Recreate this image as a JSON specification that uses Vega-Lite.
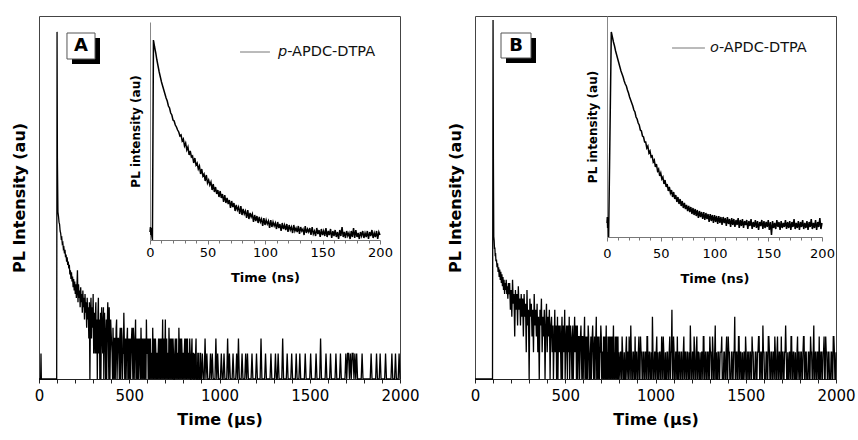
{
"$schema": "https://vega.github.io/schema/vega-lite/v6.json",
"padding": {"left": 10, "top": 15, "right": 5, "bottom": 5},
"spacing": 26,
"config": {
  "font": "DejaVu Sans",
  "view": {"stroke": "#444", "strokeWidth": 1},
  "axis": {"grid": false, "labelColor": "#000", "titleColor": "#000", "domainColor": "#222", "tickColor": "#222", "titleFontWeight": "bold", "labelFont": "DejaVu Sans", "titleFont": "DejaVu Sans", "labelOverlap": false}
},
"datasets": {
"mainA": [
{"t":0,"c":1},{"t":9,"c":1},{"t":11,"c":2},{"t":13,"c":1},{"t":98,"c":1},{"t":100,"c":12100},{"t":102,"c":400},{"t":105,"c":92},{"t":108,"c":82},{"t":111,"c":70},{"t":114,"c":66},{"t":117,"c":55},{"t":120,"c":52},{"t":123,"c":45},{"t":126,"c":46},{"t":129,"c":39},{"t":132,"c":40},{"t":135,"c":34},{"t":138,"c":35},{"t":141,"c":30},{"t":144,"c":33},{"t":147,"c":27},{"t":150,"c":29},{"t":153,"c":24},{"t":156,"c":27},{"t":159,"c":22},{"t":162,"c":24},{"t":165,"c":20},{"t":168,"c":22},{"t":171,"c":17},{"t":174,"c":19},{"t":177,"c":15},{"t":180,"c":18},{"t":183,"c":14},{"t":186,"c":16},{"t":189,"c":12},{"t":192,"c":15},{"t":195,"c":11},{"t":198,"c":14},{"t":201,"c":10},{"t":204,"c":13},{"t":207,"c":9},{"t":210,"c":12},{"t":213,"c":19},{"t":216,"c":8},{"t":219,"c":13},{"t":222,"c":9},{"t":225,"c":11},{"t":228,"c":7},{"t":231,"c":12},{"t":234,"c":8},{"t":237,"c":10},{"t":240,"c":6},{"t":243,"c":11},{"t":246,"c":7},{"t":249,"c":9},{"t":252,"c":5},{"t":255,"c":10},{"t":258,"c":6},{"t":261,"c":8},{"t":264,"c":4},{"t":267,"c":9},{"t":270,"c":5},{"t":273,"c":7},{"t":276,"c":3},{"t":279,"c":8},{"t":282,"c":1},{"t":285,"c":6},{"t":288,"c":9},{"t":291,"c":3},{"t":294,"c":7},{"t":297,"c":4},{"t":300,"c":10},{"t":303,"c":2},{"t":306,"c":6},{"t":309,"c":4},{"t":313,"c":6},{"t":317,"c":2},{"t":321,"c":5},{"t":325,"c":3},{"t":329,"c":9},{"t":333,"c":4},{"t":337,"c":1},{"t":341,"c":6},{"t":345,"c":3},{"t":349,"c":5},{"t":353,"c":2},{"t":357,"c":7},{"t":361,"c":3},{"t":365,"c":4},{"t":369,"c":1},{"t":373,"c":5},{"t":377,"c":3},{"t":381,"c":8},{"t":385,"c":2},{"t":389,"c":7},{"t":393,"c":1},{"t":397,"c":5},{"t":401,"c":3},{"t":405,"c":2},{"t":410,"c":4},{"t":415,"c":1},{"t":420,"c":3},{"t":425,"c":2},{"t":430,"c":5},{"t":435,"c":2},{"t":440,"c":3},{"t":445,"c":1},{"t":450,"c":4},{"t":455,"c":2},{"t":460,"c":3},{"t":465,"c":2},{"t":470,"c":6},{"t":475,"c":1},{"t":480,"c":3},{"t":485,"c":2},{"t":490,"c":4},{"t":495,"c":2},{"t":500,"c":1},{"t":505,"c":3},{"t":510,"c":2},{"t":515,"c":4},{"t":520,"c":1},{"t":525,"c":3},{"t":530,"c":2},{"t":535,"c":5},{"t":540,"c":2},{"t":545,"c":1},{"t":550,"c":3},{"t":555,"c":2},{"t":560,"c":2},{"t":565,"c":4},{"t":570,"c":1},{"t":575,"c":2},{"t":580,"c":3},{"t":585,"c":1},{"t":590,"c":2},{"t":595,"c":5},{"t":600,"c":2},{"t":605,"c":1},{"t":610,"c":3},{"t":615,"c":2},{"t":620,"c":1},{"t":625,"c":2},{"t":630,"c":4},{"t":635,"c":1},{"t":640,"c":2},{"t":645,"c":3},{"t":650,"c":1},{"t":655,"c":2},{"t":660,"c":2},{"t":665,"c":1},{"t":670,"c":3},{"t":675,"c":2},{"t":680,"c":1},{"t":685,"c":5},{"t":690,"c":2},{"t":695,"c":1},{"t":700,"c":5},{"t":705,"c":2},{"t":710,"c":1},{"t":715,"c":2},{"t":720,"c":4},{"t":725,"c":1},{"t":730,"c":2},{"t":735,"c":3},{"t":740,"c":1},{"t":745,"c":2},{"t":750,"c":1},{"t":755,"c":3},{"t":760,"c":2},{"t":765,"c":1},{"t":770,"c":2},{"t":775,"c":4},{"t":780,"c":1},{"t":785,"c":2},{"t":790,"c":3},{"t":795,"c":1},{"t":800,"c":2},{"t":805,"c":2},{"t":810,"c":1},{"t":815,"c":3},{"t":820,"c":2},{"t":825,"c":1},{"t":830,"c":2},{"t":835,"c":3},{"t":840,"c":1},{"t":845,"c":2},{"t":850,"c":1},{"t":855,"c":2},{"t":860,"c":1},{"t":865,"c":1},{"t":870,"c":3},{"t":875,"c":1},{"t":880,"c":2},{"t":885,"c":1},{"t":890,"c":1},{"t":895,"c":2},{"t":900,"c":1},
{"t":905,"c":2},{"t":910,"c":1},{"t":915,"c":1},{"t":920,"c":3},{"t":925,"c":1},{"t":930,"c":2},{"t":935,"c":1},{"t":945,"c":1},{"t":950,"c":2},{"t":955,"c":1},{"t":960,"c":2},{"t":965,"c":1},{"t":975,"c":1},{"t":980,"c":3},{"t":985,"c":1},{"t":990,"c":2},{"t":995,"c":1},{"t":1005,"c":1},{"t":1010,"c":2},{"t":1015,"c":1},{"t":1020,"c":1},{"t":1025,"c":2},{"t":1030,"c":1},{"t":1040,"c":1},{"t":1045,"c":3},{"t":1050,"c":1},{"t":1055,"c":2},{"t":1060,"c":1},{"t":1070,"c":1},{"t":1075,"c":2},{"t":1080,"c":1},{"t":1090,"c":1},{"t":1095,"c":2},{"t":1100,"c":1},{"t":1105,"c":3},{"t":1110,"c":1},{"t":1120,"c":1},{"t":1125,"c":2},{"t":1130,"c":1},{"t":1140,"c":1},{"t":1145,"c":2},{"t":1150,"c":1},{"t":1155,"c":2},{"t":1160,"c":1},{"t":1175,"c":1},{"t":1180,"c":2},{"t":1185,"c":1},{"t":1200,"c":1},{"t":1205,"c":2},{"t":1210,"c":1},{"t":1225,"c":1},{"t":1230,"c":3},{"t":1235,"c":1},{"t":1250,"c":1},{"t":1255,"c":2},{"t":1260,"c":1},{"t":1280,"c":1},{"t":1285,"c":2},{"t":1290,"c":1},{"t":1305,"c":1},{"t":1310,"c":2},{"t":1315,"c":1},{"t":1320,"c":1},{"t":1325,"c":2},{"t":1330,"c":1},{"t":1345,"c":1},{"t":1350,"c":3},{"t":1355,"c":1},{"t":1370,"c":1},{"t":1375,"c":2},{"t":1380,"c":1},{"t":1395,"c":1},{"t":1400,"c":2},{"t":1405,"c":1},{"t":1420,"c":1},{"t":1425,"c":2},{"t":1430,"c":1},{"t":1440,"c":1},{"t":1445,"c":2},{"t":1450,"c":1},{"t":1470,"c":1},{"t":1475,"c":2},{"t":1480,"c":1},{"t":1500,"c":1},{"t":1505,"c":2},{"t":1510,"c":1},{"t":1530,"c":1},{"t":1535,"c":2},{"t":1540,"c":1},{"t":1555,"c":1},{"t":1560,"c":3},{"t":1565,"c":1},{"t":1585,"c":1},{"t":1590,"c":2},{"t":1595,"c":1},{"t":1610,"c":1},{"t":1615,"c":2},{"t":1620,"c":1},{"t":1640,"c":1},{"t":1645,"c":2},{"t":1650,"c":1},{"t":1665,"c":1},{"t":1670,"c":2},{"t":1675,"c":1},{"t":1695,"c":1},{"t":1700,"c":2},{"t":1705,"c":1},{"t":1710,"c":2},{"t":1715,"c":2},{"t":1720,"c":1},{"t":1725,"c":2},{"t":1730,"c":1},{"t":1735,"c":2},{"t":1740,"c":2},{"t":1745,"c":1},{"t":1750,"c":2},{"t":1755,"c":1},{"t":1760,"c":2},{"t":1765,"c":1},{"t":1785,"c":1},{"t":1790,"c":2},{"t":1795,"c":1},{"t":1835,"c":1},{"t":1840,"c":2},{"t":1845,"c":1},{"t":1865,"c":1},{"t":1870,"c":2},{"t":1875,"c":1},{"t":1885,"c":1},{"t":1890,"c":2},{"t":1895,"c":1},{"t":1915,"c":1},{"t":1920,"c":2},{"t":1925,"c":1},{"t":1950,"c":1},{"t":1955,"c":2},{"t":1960,"c":1},{"t":1970,"c":1},{"t":1975,"c":2},{"t":1980,"c":1},{"t":1990,"c":1},{"t":1995,"c":2},{"t":2000,"c":1},
{"t":311,"c":2},{"t":315,"c":8},{"t":319,"c":4},{"t":323,"c":1},{"t":327,"c":6},{"t":331,"c":2},{"t":335,"c":5},{"t":339,"c":3},{"t":343,"c":1},{"t":347,"c":7},{"t":351,"c":3},{"t":355,"c":4},{"t":359,"c":1},{"t":363,"c":6},{"t":367,"c":3},{"t":371,"c":2},{"t":375,"c":1},{"t":379,"c":5},{"t":383,"c":4},{"t":387,"c":1},{"t":391,"c":3},{"t":395,"c":2},
{"t":407.5,"c":1},{"t":412.5,"c":2},{"t":417.5,"c":3},{"t":422.5,"c":1},{"t":427.5,"c":4},{"t":432.5,"c":1},{"t":437.5,"c":3},{"t":442.5,"c":2},{"t":447.5,"c":3},{"t":452.5,"c":1},{"t":457.5,"c":4},{"t":462.5,"c":1},{"t":467.5,"c":2},{"t":472.5,"c":3},{"t":477.5,"c":2},{"t":482.5,"c":1},{"t":487.5,"c":3},{"t":492.5,"c":1},{"t":497.5,"c":3},{"t":502.5,"c":2},{"t":507.5,"c":1},{"t":512.5,"c":3},{"t":517.5,"c":2},{"t":522.5,"c":4},{"t":527.5,"c":1},{"t":532.5,"c":3},{"t":537.5,"c":1},{"t":542.5,"c":3},{"t":547.5,"c":2},{"t":552.5,"c":1},{"t":557.5,"c":3},{"t":562.5,"c":1},{"t":567.5,"c":2},{"t":572.5,"c":3},{"t":577.5,"c":1},{"t":582.5,"c":2},{"t":587.5,"c":3},{"t":592.5,"c":1},{"t":597.5,"c":2},{"t":602.5,"c":3},{"t":607.5,"c":2},{"t":612.5,"c":1},{"t":617.5,"c":3},{"t":622.5,"c":2},{"t":627.5,"c":1},{"t":632.5,"c":2},{"t":637.5,"c":3},{"t":642.5,"c":1},{"t":647.5,"c":2},{"t":652.5,"c":2},{"t":657.5,"c":1},{"t":662.5,"c":3},{"t":667.5,"c":2},{"t":672.5,"c":1},{"t":677.5,"c":3},{"t":682.5,"c":2},{"t":687.5,"c":1},{"t":692.5,"c":3},{"t":697.5,"c":2},{"t":702.5,"c":1},{"t":707.5,"c":3},{"t":712.5,"c":2},{"t":717.5,"c":1},{"t":722.5,"c":2},{"t":727.5,"c":3},{"t":732.5,"c":1},{"t":737.5,"c":2},{"t":742.5,"c":3},{"t":747.5,"c":1},{"t":752.5,"c":2},{"t":757.5,"c":1},{"t":762.5,"c":3},{"t":767.5,"c":2},{"t":772.5,"c":1},{"t":777.5,"c":2},{"t":782.5,"c":3},{"t":787.5,"c":1},{"t":792.5,"c":2},{"t":797.5,"c":2},{"t":802.5,"c":1},{"t":807.5,"c":3},{"t":812.5,"c":2},{"t":817.5,"c":1},{"t":822.5,"c":3},{"t":827.5,"c":2},{"t":832.5,"c":1},{"t":837.5,"c":2},{"t":842.5,"c":1},{"t":847.5,"c":3},{"t":852.5,"c":2},{"t":857.5,"c":1},{"t":862.5,"c":2},{"t":867.5,"c":2},{"t":872.5,"c":1},{"t":877.5,"c":1},{"t":882.5,"c":2},{"t":887.5,"c":1},{"t":892.5,"c":2},{"t":897.5,"c":1}
],
"mainB": [
{"t":0,"c":1},{"t":97,"c":1},{"t":100,"c":10800},{"t":102,"c":300},{"t":104,"c":40},{"t":106,"c":36},{"t":108,"c":29},{"t":110,"c":30},{"t":112,"c":24},{"t":114,"c":26},{"t":116,"c":21},{"t":119,"c":22},{"t":122,"c":18},{"t":125,"c":20},{"t":128,"c":16},{"t":131,"c":18},{"t":134,"c":14},{"t":137,"c":17},{"t":140,"c":13},{"t":143,"c":16},{"t":146,"c":12},{"t":149,"c":15},{"t":152,"c":11},{"t":155,"c":14},{"t":158,"c":10},{"t":161,"c":13},{"t":164,"c":9},{"t":167,"c":12},{"t":170,"c":10},{"t":173,"c":13},{"t":176,"c":9},{"t":179,"c":11},{"t":182,"c":8},{"t":185,"c":12},{"t":188,"c":9},{"t":192,"c":12},{"t":196,"c":6},{"t":200,"c":10},{"t":204,"c":5},{"t":208,"c":13},{"t":212,"c":7},{"t":216,"c":9},{"t":220,"c":3},{"t":224,"c":10},{"t":228,"c":6},{"t":232,"c":9},{"t":236,"c":4},{"t":240,"c":11},{"t":244,"c":6},{"t":248,"c":8},{"t":252,"c":4},{"t":256,"c":9},{"t":260,"c":5},{"t":264,"c":8},{"t":268,"c":3},{"t":272,"c":9},{"t":276,"c":5},{"t":280,"c":7},{"t":284,"c":2},{"t":288,"c":10},{"t":292,"c":4},{"t":296,"c":6},{"t":300,"c":1},{"t":304,"c":8},{"t":308,"c":5},{"t":312,"c":7},{"t":316,"c":3},{"t":320,"c":6},{"t":324,"c":2},{"t":328,"c":9},{"t":332,"c":4},{"t":336,"c":6},{"t":340,"c":3},{"t":344,"c":7},{"t":348,"c":2},{"t":352,"c":5},{"t":356,"c":1},{"t":360,"c":6},{"t":364,"c":4},{"t":368,"c":8},{"t":372,"c":2},{"t":376,"c":5},{"t":380,"c":3},{"t":384,"c":6},{"t":388,"c":1},{"t":392,"c":4},{"t":396,"c":7},{"t":400,"c":2},{"t":404,"c":5},{"t":408,"c":3},{"t":412,"c":6},{"t":416,"c":1},{"t":420,"c":4},{"t":424,"c":5},{"t":428,"c":2},{"t":432,"c":4},{"t":437,"c":2},{"t":442,"c":6},{"t":447,"c":3},{"t":452,"c":1},{"t":457,"c":5},{"t":462,"c":3},{"t":467,"c":2},{"t":472,"c":4},{"t":477,"c":1},{"t":482,"c":5},{"t":487,"c":3},{"t":492,"c":2},{"t":497,"c":6},{"t":502,"c":2},{"t":507,"c":4},{"t":512,"c":1},{"t":517,"c":3},{"t":522,"c":5},{"t":527,"c":2},{"t":532,"c":3},{"t":537,"c":1},{"t":542,"c":4},{"t":547,"c":2},{"t":552,"c":5},{"t":557,"c":3},{"t":562,"c":1},{"t":567,"c":4},{"t":572,"c":2},{"t":577,"c":3},{"t":582,"c":2},{"t":587,"c":4},{"t":592,"c":1},{"t":597,"c":3},{"t":602,"c":2},{"t":607,"c":5},{"t":612,"c":2},{"t":617,"c":1},{"t":622,"c":3},{"t":627,"c":4},{"t":632,"c":2},{"t":637,"c":1},{"t":642,"c":3},{"t":647,"c":2},{"t":652,"c":4},{"t":657,"c":1},{"t":662,"c":3},{"t":667,"c":2},{"t":672,"c":5},{"t":677,"c":2},{"t":682,"c":1},{"t":687,"c":3},{"t":692,"c":2},{"t":697,"c":4},{"t":702,"c":1},{"t":707,"c":2},{"t":712,"c":3},{"t":717,"c":2},{"t":722,"c":1},{"t":727,"c":4},{"t":732,"c":2},{"t":737,"c":3},{"t":742,"c":1},{"t":747,"c":2},{"t":752,"c":3},{"t":757,"c":2},{"t":762,"c":1},{"t":767,"c":4},{"t":772,"c":2},{"t":777,"c":3},{"t":782,"c":1},{"t":787,"c":2},{"t":792,"c":3},{"t":797,"c":2},
{"t":803,"c":1},{"t":809,"c":2},{"t":815,"c":3},{"t":821,"c":1},{"t":827,"c":2},{"t":833,"c":1},{"t":839,"c":3},{"t":845,"c":2},{"t":851,"c":1},{"t":857,"c":2},{"t":863,"c":4},{"t":869,"c":1},{"t":875,"c":2},{"t":881,"c":1},{"t":887,"c":3},{"t":893,"c":2},{"t":899,"c":1},{"t":905,"c":2},{"t":911,"c":1},{"t":917,"c":3},{"t":923,"c":2},{"t":929,"c":1},{"t":935,"c":2},{"t":941,"c":1},{"t":947,"c":2},{"t":953,"c":3},{"t":959,"c":1},{"t":965,"c":2},{"t":971,"c":1},{"t":977,"c":2},{"t":983,"c":5},{"t":989,"c":1},{"t":995,"c":2},{"t":1001,"c":1},{"t":1007,"c":3},{"t":1013,"c":2},{"t":1019,"c":1},{"t":1025,"c":2},{"t":1031,"c":1},{"t":1037,"c":2},{"t":1043,"c":3},{"t":1049,"c":1},{"t":1055,"c":2},{"t":1061,"c":1},{"t":1067,"c":2},{"t":1073,"c":1},{"t":1079,"c":3},{"t":1085,"c":2},{"t":1091,"c":6},{"t":1097,"c":1},{"t":1103,"c":2},{"t":1109,"c":1},{"t":1115,"c":2},{"t":1121,"c":3},{"t":1127,"c":1},{"t":1133,"c":2},{"t":1139,"c":1},{"t":1145,"c":2},{"t":1151,"c":1},{"t":1157,"c":3},{"t":1163,"c":2},{"t":1169,"c":1},{"t":1175,"c":2},{"t":1181,"c":1},{"t":1187,"c":2},{"t":1193,"c":4},{"t":1199,"c":1},{"t":1205,"c":2},{"t":1211,"c":1},{"t":1217,"c":2},{"t":1223,"c":1},{"t":1229,"c":3},{"t":1235,"c":2},{"t":1241,"c":1},{"t":1247,"c":2},{"t":1253,"c":1},{"t":1259,"c":2},{"t":1265,"c":3},{"t":1271,"c":1},{"t":1277,"c":2},{"t":1283,"c":1},{"t":1289,"c":2},{"t":1295,"c":1},{"t":1301,"c":3},{"t":1307,"c":2},{"t":1313,"c":1},{"t":1319,"c":2},{"t":1325,"c":1},{"t":1331,"c":4},{"t":1337,"c":2},{"t":1343,"c":1},{"t":1349,"c":2},{"t":1355,"c":1},{"t":1361,"c":2},{"t":1367,"c":3},{"t":1373,"c":1},{"t":1379,"c":2},{"t":1385,"c":1},{"t":1391,"c":2},{"t":1397,"c":1},{"t":1403,"c":3},{"t":1409,"c":2},{"t":1415,"c":1},{"t":1421,"c":2},{"t":1427,"c":1},{"t":1433,"c":2},{"t":1439,"c":5},{"t":1445,"c":1},{"t":1451,"c":2},{"t":1457,"c":1},{"t":1463,"c":3},{"t":1469,"c":2},{"t":1475,"c":1},{"t":1481,"c":2},{"t":1487,"c":1},{"t":1493,"c":2},{"t":1499,"c":3},{"t":1505,"c":1},{"t":1511,"c":2},{"t":1517,"c":1},{"t":1523,"c":2},{"t":1529,"c":1},{"t":1535,"c":3},{"t":1541,"c":2},{"t":1547,"c":1},{"t":1553,"c":2},{"t":1559,"c":1},{"t":1565,"c":2},{"t":1571,"c":3},{"t":1577,"c":1},{"t":1583,"c":2},{"t":1589,"c":1},{"t":1595,"c":4},{"t":1601,"c":2},{"t":1607,"c":1},{"t":1613,"c":2},{"t":1619,"c":1},{"t":1625,"c":3},{"t":1631,"c":2},{"t":1637,"c":1},{"t":1643,"c":2},{"t":1649,"c":1},{"t":1655,"c":2},{"t":1661,"c":3},{"t":1667,"c":1},{"t":1673,"c":2},{"t":1679,"c":1},{"t":1685,"c":2},{"t":1691,"c":1},{"t":1697,"c":3},{"t":1703,"c":2},{"t":1709,"c":1},{"t":1715,"c":2},{"t":1721,"c":4},{"t":1727,"c":1},{"t":1733,"c":2},{"t":1739,"c":1},{"t":1745,"c":2},{"t":1751,"c":3},{"t":1757,"c":1},{"t":1763,"c":2},{"t":1769,"c":1},{"t":1775,"c":2},{"t":1781,"c":1},{"t":1787,"c":3},{"t":1793,"c":2},{"t":1799,"c":1},{"t":1805,"c":2},{"t":1811,"c":1},{"t":1817,"c":2},{"t":1823,"c":3},{"t":1829,"c":1},{"t":1835,"c":2},{"t":1841,"c":1},{"t":1847,"c":2},{"t":1853,"c":1},{"t":1859,"c":3},{"t":1865,"c":2},{"t":1871,"c":1},{"t":1877,"c":4},{"t":1883,"c":1},{"t":1889,"c":2},{"t":1895,"c":1},{"t":1901,"c":2},{"t":1907,"c":3},{"t":1913,"c":1},{"t":1919,"c":2},{"t":1925,"c":1},{"t":1931,"c":2},{"t":1937,"c":1},{"t":1943,"c":3},{"t":1949,"c":2},{"t":1955,"c":1},{"t":1961,"c":2},{"t":1967,"c":1},{"t":1973,"c":2},{"t":1979,"c":1},{"t":1985,"c":3},{"t":1991,"c":2},{"t":1997,"c":1},{"t":2000,"c":2},
{"t":434.5,"c":1},{"t":439.5,"c":3},{"t":444.5,"c":2},{"t":449.5,"c":4},{"t":454.5,"c":2},{"t":459.5,"c":1},{"t":464.5,"c":4},{"t":469.5,"c":3},{"t":474.5,"c":2},{"t":479.5,"c":3},{"t":484.5,"c":1},{"t":489.5,"c":4},{"t":494.5,"c":3},{"t":499.5,"c":1},{"t":504.5,"c":3},{"t":509.5,"c":2},{"t":514.5,"c":4},{"t":519.5,"c":2},{"t":524.5,"c":1},{"t":529.5,"c":4},{"t":534.5,"c":2},{"t":539.5,"c":3},{"t":544.5,"c":1},{"t":549.5,"c":3},{"t":554.5,"c":2},{"t":559.5,"c":4},{"t":564.5,"c":2},{"t":569.5,"c":1},{"t":574.5,"c":3},{"t":579.5,"c":1},{"t":584.5,"c":3},{"t":589.5,"c":2},{"t":594.5,"c":3},{"t":599.5,"c":1},{"t":604.5,"c":3},{"t":609.5,"c":1},{"t":614.5,"c":3},{"t":619.5,"c":2},{"t":624.5,"c":1},{"t":629.5,"c":3},{"t":634.5,"c":1},{"t":639.5,"c":2},{"t":644.5,"c":1},{"t":649.5,"c":3},{"t":654.5,"c":2},{"t":659.5,"c":2},{"t":664.5,"c":1},{"t":669.5,"c":3},{"t":674.5,"c":1},{"t":679.5,"c":3},{"t":684.5,"c":2},{"t":689.5,"c":1},{"t":694.5,"c":2},{"t":699.5,"c":3},{"t":704.5,"c":2},{"t":709.5,"c":1},{"t":714.5,"c":1},{"t":719.5,"c":3},{"t":724.5,"c":2},{"t":729.5,"c":1},{"t":734.5,"c":1},{"t":739.5,"c":2},{"t":744.5,"c":3},{"t":749.5,"c":1},{"t":754.5,"c":1},{"t":759.5,"c":3},{"t":764.5,"c":2},{"t":769.5,"c":1},{"t":774.5,"c":1},{"t":779.5,"c":2},{"t":784.5,"c":3},{"t":789.5,"c":1},{"t":794.5,"c":1},
{"t":806,"c":2},{"t":812,"c":1},{"t":818,"c":2},{"t":824,"c":1},{"t":830,"c":1},{"t":836,"c":2},{"t":842,"c":1},{"t":848,"c":2},{"t":854,"c":3},{"t":860,"c":1},{"t":866,"c":2},{"t":872,"c":1},{"t":878,"c":2},{"t":884,"c":1},{"t":890,"c":1},{"t":896,"c":2},{"t":902,"c":1},{"t":908,"c":3},{"t":914,"c":1},{"t":920,"c":2},
{"t":926,"c":1},{"t":932,"c":2},{"t":938,"c":1},{"t":944,"c":2},{"t":950,"c":1},{"t":956,"c":3},{"t":962,"c":1},{"t":968,"c":2},{"t":974,"c":1},{"t":980,"c":1},{"t":986,"c":2},{"t":992,"c":1},{"t":998,"c":2},{"t":1004,"c":2},{"t":1010,"c":1},{"t":1016,"c":1},{"t":1022,"c":2},{"t":1028,"c":1},{"t":1034,"c":3},{"t":1040,"c":1},
{"t":1046,"c":2},{"t":1052,"c":1},{"t":1058,"c":1},{"t":1064,"c":2},{"t":1070,"c":1},{"t":1076,"c":2},{"t":1082,"c":1},{"t":1088,"c":2},{"t":1094,"c":1},{"t":1100,"c":3},{"t":1106,"c":1},{"t":1112,"c":2},{"t":1118,"c":1},{"t":1124,"c":1},{"t":1130,"c":2},{"t":1136,"c":1},{"t":1142,"c":2},{"t":1148,"c":1},{"t":1154,"c":2},{"t":1160,"c":1},
{"t":1166,"c":2},{"t":1172,"c":1},{"t":1178,"c":2},{"t":1184,"c":1},{"t":1190,"c":1},{"t":1196,"c":2},{"t":1202,"c":1},{"t":1208,"c":2},{"t":1214,"c":3},{"t":1220,"c":1},{"t":1226,"c":2},{"t":1232,"c":1},{"t":1238,"c":2},{"t":1244,"c":1},{"t":1250,"c":1},{"t":1256,"c":2},{"t":1262,"c":1},{"t":1268,"c":3},{"t":1274,"c":1},{"t":1280,"c":2},
{"t":1286,"c":1},{"t":1292,"c":2},{"t":1298,"c":1},{"t":1304,"c":2},{"t":1310,"c":1},{"t":1316,"c":3},{"t":1322,"c":1},{"t":1328,"c":2},{"t":1334,"c":1},{"t":1340,"c":1},{"t":1346,"c":2},{"t":1352,"c":1},{"t":1358,"c":2},{"t":1364,"c":2},{"t":1370,"c":1},{"t":1376,"c":1},{"t":1382,"c":2},{"t":1388,"c":1},{"t":1394,"c":3},{"t":1400,"c":1},
{"t":1406,"c":2},{"t":1412,"c":1},{"t":1418,"c":1},{"t":1424,"c":2},{"t":1430,"c":1},{"t":1436,"c":2},{"t":1442,"c":1},{"t":1448,"c":2},{"t":1454,"c":1},{"t":1460,"c":3},{"t":1466,"c":1},{"t":1472,"c":2},{"t":1478,"c":1},{"t":1484,"c":1},{"t":1490,"c":2},{"t":1496,"c":1},{"t":1502,"c":2},{"t":1508,"c":1},{"t":1514,"c":2},{"t":1520,"c":1},
{"t":1526,"c":2},{"t":1532,"c":1},{"t":1538,"c":2},{"t":1544,"c":1},{"t":1550,"c":1},{"t":1556,"c":2},{"t":1562,"c":1},{"t":1568,"c":2},{"t":1574,"c":3},{"t":1580,"c":1},{"t":1586,"c":2},{"t":1592,"c":1},{"t":1598,"c":2},{"t":1604,"c":1},{"t":1610,"c":1},{"t":1616,"c":2},{"t":1622,"c":1},{"t":1628,"c":3},{"t":1634,"c":1},{"t":1640,"c":2},
{"t":1646,"c":1},{"t":1652,"c":2},{"t":1658,"c":1},{"t":1664,"c":2},{"t":1670,"c":1},{"t":1676,"c":3},{"t":1682,"c":1},{"t":1688,"c":2},{"t":1694,"c":1},{"t":1700,"c":1},{"t":1706,"c":2},{"t":1712,"c":1},{"t":1718,"c":2},{"t":1724,"c":2},{"t":1730,"c":1},{"t":1736,"c":1},{"t":1742,"c":2},{"t":1748,"c":1},{"t":1754,"c":3},{"t":1760,"c":1},
{"t":1766,"c":2},{"t":1772,"c":1},{"t":1778,"c":1},{"t":1784,"c":2},{"t":1790,"c":1},{"t":1796,"c":2},{"t":1802,"c":1},{"t":1808,"c":2},{"t":1814,"c":1},{"t":1820,"c":3},{"t":1826,"c":1},{"t":1832,"c":2},{"t":1838,"c":1},{"t":1844,"c":1},{"t":1850,"c":2},{"t":1856,"c":1},{"t":1862,"c":2},{"t":1868,"c":1},{"t":1874,"c":2},{"t":1880,"c":1},
{"t":1886,"c":2},{"t":1892,"c":1},{"t":1898,"c":2},{"t":1904,"c":1},{"t":1910,"c":1},{"t":1916,"c":2},{"t":1922,"c":1},{"t":1928,"c":2},{"t":1934,"c":3},{"t":1940,"c":1},{"t":1946,"c":2},{"t":1952,"c":1},{"t":1958,"c":2},{"t":1964,"c":1},{"t":1970,"c":1},{"t":1976,"c":2},{"t":1982,"c":1},{"t":1988,"c":3},{"t":1994,"c":1}
],
"insetA": [
{"t":0,"i":8},{"t":0.4,"i":13},{"t":0.8,"i":5},{"t":1.2,"i":12},{"t":1.6,"i":4},{"t":2.1,"i":0},{"t":3,"i":200},{"t":4,"i":193},{"t":5,"i":187},{"t":6,"i":180},{"t":7,"i":174},{"t":8,"i":168},{"t":9,"i":163},{"t":10,"i":158},{"t":11,"i":154},{"t":12,"i":150},{"t":13,"i":146},{"t":14,"i":142},{"t":15,"i":139},{"t":16,"i":134},{"t":17,"i":132},{"t":18,"i":127},{"t":19,"i":125},{"t":20,"i":120},{"t":21,"i":119},{"t":22,"i":115},{"t":23,"i":113},{"t":24,"i":110},{"t":25,"i":108},{"t":26,"i":104},{"t":27,"i":105},{"t":28,"i":99},{"t":29,"i":101},{"t":30,"i":94},{"t":31,"i":97},{"t":32,"i":90},{"t":33,"i":93},{"t":34,"i":85},{"t":35,"i":89},{"t":36,"i":83},{"t":37,"i":84},{"t":38,"i":77},{"t":39,"i":82},{"t":40,"i":75},{"t":41,"i":77},{"t":42,"i":71},{"t":43,"i":74},{"t":44,"i":66},{"t":45,"i":71},{"t":46,"i":64},{"t":47,"i":66},{"t":48,"i":59},{"t":49,"i":65},{"t":50,"i":57},{"t":51,"i":60},{"t":52,"i":55},{"t":53,"i":58},{"t":54,"i":50},{"t":55,"i":56},{"t":56,"i":48},{"t":57,"i":53},{"t":58,"i":46},{"t":59,"i":50},{"t":60,"i":43},{"t":61,"i":49},{"t":62,"i":42},{"t":63,"i":46},{"t":64,"i":38},{"t":65,"i":45},{"t":66,"i":37},{"t":67,"i":42},{"t":68,"i":36},{"t":69,"i":40},{"t":70,"i":32},{"t":71,"i":39},{"t":72,"i":33},{"t":73,"i":37},{"t":74,"i":29},{"t":75,"i":35},{"t":76,"i":30},{"t":77,"i":33},{"t":78,"i":26},{"t":79,"i":34},{"t":80,"i":25},{"t":81,"i":31},{"t":82,"i":26},{"t":83,"i":29},{"t":84,"i":22},{"t":85,"i":30},{"t":86,"i":21},{"t":87,"i":27},{"t":88,"i":23},{"t":89,"i":26},{"t":90,"i":18},{"t":91,"i":25},{"t":92,"i":19},{"t":93,"i":24},{"t":94,"i":17},{"t":95,"i":23},{"t":96,"i":18},{"t":97,"i":21},{"t":98,"i":14},{"t":99,"i":22},{"t":100,"i":15},{"t":101,"i":20},{"t":102,"i":16},{"t":103,"i":19},{"t":104,"i":12},{"t":105,"i":20},{"t":106,"i":13},{"t":107,"i":18},{"t":108,"i":14},{"t":109,"i":17},{"t":110,"i":11},{"t":111,"i":18},{"t":112,"i":12},{"t":113,"i":16},{"t":114,"i":9},{"t":115,"i":17},{"t":116,"i":11},{"t":117,"i":15},{"t":118,"i":10},{"t":119,"i":16},{"t":120,"i":8},{"t":121,"i":15},{"t":122,"i":10},{"t":123,"i":13},{"t":124,"i":7},{"t":125,"i":15},{"t":126,"i":9},{"t":127,"i":12},{"t":128,"i":8},{"t":129,"i":14},{"t":130,"i":6},{"t":131,"i":13},{"t":132,"i":9},{"t":133,"i":11},{"t":134,"i":5},{"t":135,"i":14},{"t":136,"i":7},{"t":137,"i":11},{"t":138,"i":8},{"t":139,"i":12},{"t":140,"i":5},{"t":141,"i":13},{"t":142,"i":6},{"t":143,"i":9},{"t":144,"i":4},{"t":145,"i":12},{"t":146,"i":6},{"t":147,"i":10},{"t":148,"i":3},{"t":149,"i":11},{"t":150,"i":5},{"t":151,"i":9},{"t":152,"i":4},{"t":153,"i":12},{"t":154,"i":3},{"t":155,"i":9},{"t":156,"i":5},{"t":157,"i":11},{"t":158,"i":2},{"t":159,"i":9},{"t":160,"i":4},{"t":161,"i":10},{"t":162,"i":3},{"t":163,"i":8},{"t":164,"i":1},{"t":165,"i":10},{"t":166,"i":4},{"t":167,"i":13},{"t":168,"i":3},{"t":169,"i":8},{"t":170,"i":2},{"t":171,"i":9},{"t":172,"i":4},{"t":173,"i":7},{"t":174,"i":1},{"t":175,"i":9},{"t":176,"i":3},{"t":177,"i":12},{"t":178,"i":2},{"t":179,"i":10},{"t":180,"i":3},{"t":181,"i":7},{"t":182,"i":1},{"t":183,"i":8},{"t":184,"i":4},{"t":185,"i":9},{"t":186,"i":2},{"t":187,"i":7},{"t":188,"i":3},{"t":189,"i":9},{"t":190,"i":1},{"t":191,"i":8},{"t":192,"i":4},{"t":193,"i":10},{"t":194,"i":2},{"t":195,"i":7},{"t":196,"i":3},{"t":197,"i":9},{"t":198,"i":1},{"t":199,"i":8},{"t":200,"i":5}
],
"insetB": [
{"t":0,"i":14},{"t":0.3,"i":20},{"t":0.6,"i":9},{"t":0.9,"i":18},{"t":1.2,"i":12},{"t":1.5,"i":0},{"t":4,"i":205},{"t":5,"i":200},{"t":6,"i":195},{"t":7,"i":191},{"t":8,"i":186},{"t":9,"i":182},{"t":10,"i":178},{"t":11,"i":174},{"t":12,"i":170},{"t":13,"i":166},{"t":14,"i":163},{"t":15,"i":160},{"t":16,"i":156},{"t":17,"i":153},{"t":18,"i":151},{"t":19,"i":147},{"t":20,"i":144},{"t":21,"i":140},{"t":22,"i":137},{"t":23,"i":134},{"t":24,"i":131},{"t":25,"i":127},{"t":26,"i":125},{"t":27,"i":120},{"t":28,"i":118},{"t":29,"i":114},{"t":30,"i":112},{"t":31,"i":107},{"t":32,"i":106},{"t":33,"i":101},{"t":34,"i":100},{"t":35,"i":95},{"t":36,"i":95},{"t":37,"i":89},{"t":38,"i":91},{"t":39,"i":84},{"t":40,"i":86},{"t":41,"i":80},{"t":42,"i":81},{"t":43,"i":75},{"t":44,"i":77},{"t":45,"i":70},{"t":46,"i":73},{"t":47,"i":66},{"t":48,"i":68},{"t":49,"i":61},{"t":50,"i":64},{"t":51,"i":58},{"t":52,"i":60},{"t":53,"i":53},{"t":54,"i":57},{"t":55,"i":50},{"t":56,"i":53},{"t":57,"i":46},{"t":58,"i":50},{"t":59,"i":44},{"t":60,"i":47},{"t":61,"i":40},{"t":62,"i":45},{"t":63,"i":38},{"t":64,"i":42},{"t":65,"i":35},{"t":66,"i":40},{"t":67,"i":33},{"t":68,"i":38},{"t":69,"i":31},{"t":70,"i":36},{"t":71,"i":29},{"t":72,"i":34},{"t":73,"i":28},{"t":74,"i":32},{"t":75,"i":26},{"t":76,"i":31},{"t":77,"i":25},{"t":78,"i":30},{"t":79,"i":23},{"t":80,"i":29},{"t":81,"i":22},{"t":82,"i":28},{"t":83,"i":21},{"t":84,"i":27},{"t":85,"i":19},{"t":86,"i":26},{"t":87,"i":20},{"t":88,"i":25},{"t":89,"i":18},{"t":90,"i":25},{"t":91,"i":17},{"t":92,"i":24},{"t":93,"i":18},{"t":94,"i":23},{"t":95,"i":15},{"t":96,"i":23},{"t":97,"i":16},{"t":98,"i":22},{"t":99,"i":14},{"t":100,"i":22},{"t":101,"i":15},{"t":102,"i":21},{"t":103,"i":13},{"t":104,"i":21},{"t":105,"i":14},{"t":106,"i":20},{"t":107,"i":12},{"t":108,"i":20},{"t":109,"i":14},{"t":110,"i":19},{"t":111,"i":11},{"t":112,"i":20},{"t":113,"i":13},{"t":114,"i":18},{"t":115,"i":10},{"t":116,"i":19},{"t":117,"i":12},{"t":118,"i":18},{"t":119,"i":10},{"t":120,"i":17},{"t":121,"i":12},{"t":122,"i":19},{"t":123,"i":9},{"t":124,"i":17},{"t":125,"i":11},{"t":126,"i":18},{"t":127,"i":9},{"t":128,"i":16},{"t":129,"i":12},{"t":130,"i":17},{"t":131,"i":8},{"t":132,"i":16},{"t":133,"i":11},{"t":134,"i":18},{"t":135,"i":8},{"t":136,"i":15},{"t":137,"i":10},{"t":138,"i":17},{"t":139,"i":9},{"t":140,"i":16},{"t":141,"i":7},{"t":142,"i":15},{"t":143,"i":11},{"t":144,"i":17},{"t":145,"i":8},{"t":146,"i":16},{"t":147,"i":9},{"t":148,"i":15},{"t":149,"i":10},{"t":150,"i":17},{"t":151,"i":7},{"t":152,"i":15},{"t":153,"i":2},{"t":154,"i":16},{"t":155,"i":9},{"t":156,"i":14},{"t":157,"i":8},{"t":158,"i":17},{"t":159,"i":10},{"t":160,"i":15},{"t":161,"i":7},{"t":162,"i":16},{"t":163,"i":9},{"t":164,"i":14},{"t":165,"i":10},{"t":166,"i":17},{"t":167,"i":8},{"t":168,"i":15},{"t":169,"i":9},{"t":170,"i":16},{"t":171,"i":7},{"t":172,"i":15},{"t":173,"i":10},{"t":174,"i":18},{"t":175,"i":8},{"t":176,"i":14},{"t":177,"i":9},{"t":178,"i":16},{"t":179,"i":7},{"t":180,"i":15},{"t":181,"i":10},{"t":182,"i":17},{"t":183,"i":8},{"t":184,"i":14},{"t":185,"i":9},{"t":186,"i":16},{"t":187,"i":7},{"t":188,"i":15},{"t":189,"i":10},{"t":190,"i":18},{"t":191,"i":8},{"t":192,"i":14},{"t":193,"i":9},{"t":194,"i":17},{"t":195,"i":7},{"t":196,"i":15},{"t":197,"i":10},{"t":198,"i":19},{"t":199,"i":8},{"t":200,"i":14}
]
},
"hconcat": [
{
  "width": 361, "height": 363,
  "resolve": {"scale": {"x": "independent", "y": "independent"}},
  "layer": [
    {
      "data": {"name": "mainA"},
      "mark": {"type": "line", "color": "#000", "strokeWidth": 1.3},
      "encoding": {
        "x": {"field": "t", "type": "quantitative", "scale": {"domain": [0, 2000], "nice": false},
              "axis": {"title": "Time (μs)", "orient": "bottom", "values": [0,100,200,300,400,500,600,700,800,900,1000,1100,1200,1300,1400,1500,1600,1700,1800,1900,2000], "format": "d", "labelExpr": "datum.value % 500 === 0 ? datum.label : ''", "tickSize": 4, "labelPadding": 5, "labelFontSize": 15, "titleFontSize": 16, "titlePadding": 8, "labelFlush": false, "labelOverlap": false}},
        "y": {"field": "c", "type": "quantitative", "scale": {"type": "log", "domain": [1, 18600], "nice": false},
              "axis": {"title": "PL Intensity (au)", "orient": "left", "labels": false, "ticks": false, "domain": false, "titleFontSize": 16, "titlePadding": 12}},
        "order": {"field": "t", "type": "quantitative"}
      }
    },
    {
      "data": {"name": "insetA"},
      "mark": {"type": "line", "opacity": 0},
      "encoding": {
        "x": {"field": "t", "type": "quantitative", "scale": {"domain": [0, 200], "range": [111, 341], "nice": false, "zero": false},
              "axis": {"title": null, "orient": "bottom", "offset": -139, "values": [10,20,30,40,60,70,80,90,110,120,130,140,160,170,180,190], "labels": false, "domain": false, "tickSize": 3, "tickColor": "#777"}},
        "y": {"field": "i", "type": "quantitative", "scale": {"domain": [0, 218], "range": [224, 6], "nice": false, "zero": false}, "axis": null}
      }
    },
    {
      "layer": [
        {
          "data": {"name": "insetA"},
          "mark": {"type": "line", "color": "#000", "strokeWidth": 1.5},
          "encoding": {
            "x": {"field": "t", "type": "quantitative", "scale": {"domain": [0, 200], "range": [111, 341], "nice": false, "zero": false},
                  "axis": {"title": "Time (ns)", "orient": "bottom", "offset": -139, "values": [0,50,100,150,200], "format": "d", "tickSize": 4, "labelPadding": 2, "labelFontSize": 13, "titleFontSize": 13, "titlePadding": 12, "domainColor": "#777", "tickColor": "#777", "labelFlush": false, "labelOverlap": false}},
            "y": {"field": "i", "type": "quantitative", "scale": {"domain": [0, 218], "range": [224, 6], "nice": false, "zero": false},
                  "axis": {"title": "PL intensity (au)", "orient": "left", "offset": -111, "labels": false, "ticks": false, "domainColor": "#888", "titleFontSize": 12, "titlePadding": 8}}
          }
        },
        {
          "data": {"values": [{}]},
          "mark": {"type": "rect", "color": "#000", "xOffset": 5, "x2Offset": 5, "yOffset": 5, "y2Offset": 5},
          "encoding": {"x": {"datum": -72.2}, "x2": {"datum": -47.8}, "y": {"datum": 207}, "y2": {"datum": 181}}
        },
        {
          "data": {"values": [{}]},
          "mark": {"type": "rect", "fill": "#fff", "stroke": "#555", "strokeWidth": 1},
          "encoding": {"x": {"datum": -72.2}, "x2": {"datum": -47.8}, "y": {"datum": 207}, "y2": {"datum": 181}}
        },
        {
          "data": {"values": [{}]},
          "mark": {"type": "text", "text": "A", "fontSize": 18, "fontWeight": "bold", "align": "center", "baseline": "middle", "color": "#000"},
          "encoding": {"x": {"datum": -60}, "y": {"datum": 194}}
        },
        {
          "data": {"values": [{}]},
          "mark": {"type": "rule", "color": "#777", "strokeWidth": 1},
          "encoding": {"x": {"datum": 78.3}, "x2": {"datum": 104.3}, "y": {"datum": 188}}
        },
        {
          "data": {"values": [{}]},
          "mark": {"type": "text", "text": "p", "fontSize": 14.5, "fontStyle": "italic", "align": "left", "baseline": "middle", "color": "#111"},
          "encoding": {"x": {"datum": 111.3}, "y": {"datum": 188}}
        },
        {
          "data": {"values": [{}]},
          "mark": {"type": "text", "text": "-APDC-DTPA", "fontSize": 14.5, "align": "left", "baseline": "middle", "color": "#111"},
          "encoding": {"x": {"datum": 119.3}, "y": {"datum": 188}}
        }
      ]
    }
  ]
},
{
  "width": 361, "height": 363,
  "resolve": {"scale": {"x": "independent", "y": "independent"}},
  "layer": [
    {
      "data": {"name": "mainB"},
      "mark": {"type": "line", "color": "#000", "strokeWidth": 1.3},
      "encoding": {
        "x": {"field": "t", "type": "quantitative", "scale": {"domain": [0, 2000], "nice": false},
              "axis": {"title": "Time (μs)", "orient": "bottom", "values": [0,100,200,300,400,500,600,700,800,900,1000,1100,1200,1300,1400,1500,1600,1700,1800,1900,2000], "format": "d", "labelExpr": "datum.value % 500 === 0 ? datum.label : ''", "tickSize": 4, "labelPadding": 5, "labelFontSize": 15, "titleFontSize": 16, "titlePadding": 8, "labelFlush": false, "labelOverlap": false}},
        "y": {"field": "c", "type": "quantitative", "scale": {"type": "log", "domain": [1, 12000], "nice": false},
              "axis": {"title": "PL Intensity (au)", "orient": "left", "labels": false, "ticks": false, "domain": false, "titleFontSize": 16, "titlePadding": 12}},
        "order": {"field": "t", "type": "quantitative"}
      }
    },
    {
      "data": {"name": "insetB"},
      "mark": {"type": "line", "opacity": 0},
      "encoding": {
        "x": {"field": "t", "type": "quantitative", "scale": {"domain": [0, 200], "range": [132, 347], "nice": false, "zero": false},
              "axis": {"title": null, "orient": "bottom", "offset": -142, "values": [10,20,30,40,60,70,80,90,110,120,130,140,160,170,180,190], "labels": false, "domain": false, "tickSize": 3, "tickColor": "#777"}},
        "y": {"field": "i", "type": "quantitative", "scale": {"domain": [0, 221], "range": [221, 0], "nice": false, "zero": false}, "axis": null}
      }
    },
    {
      "layer": [
        {
          "data": {"name": "insetB"},
          "mark": {"type": "line", "color": "#000", "strokeWidth": 1.5},
          "encoding": {
            "x": {"field": "t", "type": "quantitative", "scale": {"domain": [0, 200], "range": [132, 347], "nice": false, "zero": false},
                  "axis": {"title": "Time (ns)", "orient": "bottom", "offset": -142, "values": [0,50,100,150,200], "format": "d", "tickSize": 4, "labelPadding": 6, "labelFontSize": 13, "titleFontSize": 13, "titlePadding": 12, "domainColor": "#777", "tickColor": "#777", "labelFlush": false, "labelOverlap": false}},
            "y": {"field": "i", "type": "quantitative", "scale": {"domain": [0, 221], "range": [221, 0], "nice": false, "zero": false},
                  "axis": {"title": "PL intensity (au)", "orient": "left", "offset": -132, "labels": false, "ticks": false, "domainColor": "#888", "titleFontSize": 12, "titlePadding": 8}}
          }
        },
        {
          "data": {"values": [{}]},
          "mark": {"type": "rect", "color": "#000", "xOffset": 5, "x2Offset": 5, "yOffset": 5, "y2Offset": 5},
          "encoding": {"x": {"datum": -98.6}, "x2": {"datum": -70.7}, "y": {"datum": 204}, "y2": {"datum": 179}}
        },
        {
          "data": {"values": [{}]},
          "mark": {"type": "rect", "fill": "#fff", "stroke": "#555", "strokeWidth": 1},
          "encoding": {"x": {"datum": -98.6}, "x2": {"datum": -70.7}, "y": {"datum": 204}, "y2": {"datum": 179}}
        },
        {
          "data": {"values": [{}]},
          "mark": {"type": "text", "text": "B", "fontSize": 18, "fontWeight": "bold", "align": "center", "baseline": "middle", "color": "#000"},
          "encoding": {"x": {"datum": -84.6}, "y": {"datum": 191.5}}
        },
        {
          "data": {"values": [{}]},
          "mark": {"type": "rule", "color": "#777", "strokeWidth": 1},
          "encoding": {"x": {"datum": 60.5}, "x2": {"datum": 91.1}, "y": {"datum": 189}}
        },
        {
          "data": {"values": [{}]},
          "mark": {"type": "text", "text": "o", "fontSize": 14.5, "fontStyle": "italic", "align": "left", "baseline": "middle", "color": "#111"},
          "encoding": {"x": {"datum": 95.8}, "y": {"datum": 189}}
        },
        {
          "data": {"values": [{}]},
          "mark": {"type": "text", "text": "-APDC-DTPA", "fontSize": 14.5, "align": "left", "baseline": "middle", "color": "#111"},
          "encoding": {"x": {"datum": 104.1}, "y": {"datum": 189}}
        }
      ]
    }
  ]
}
]
}
